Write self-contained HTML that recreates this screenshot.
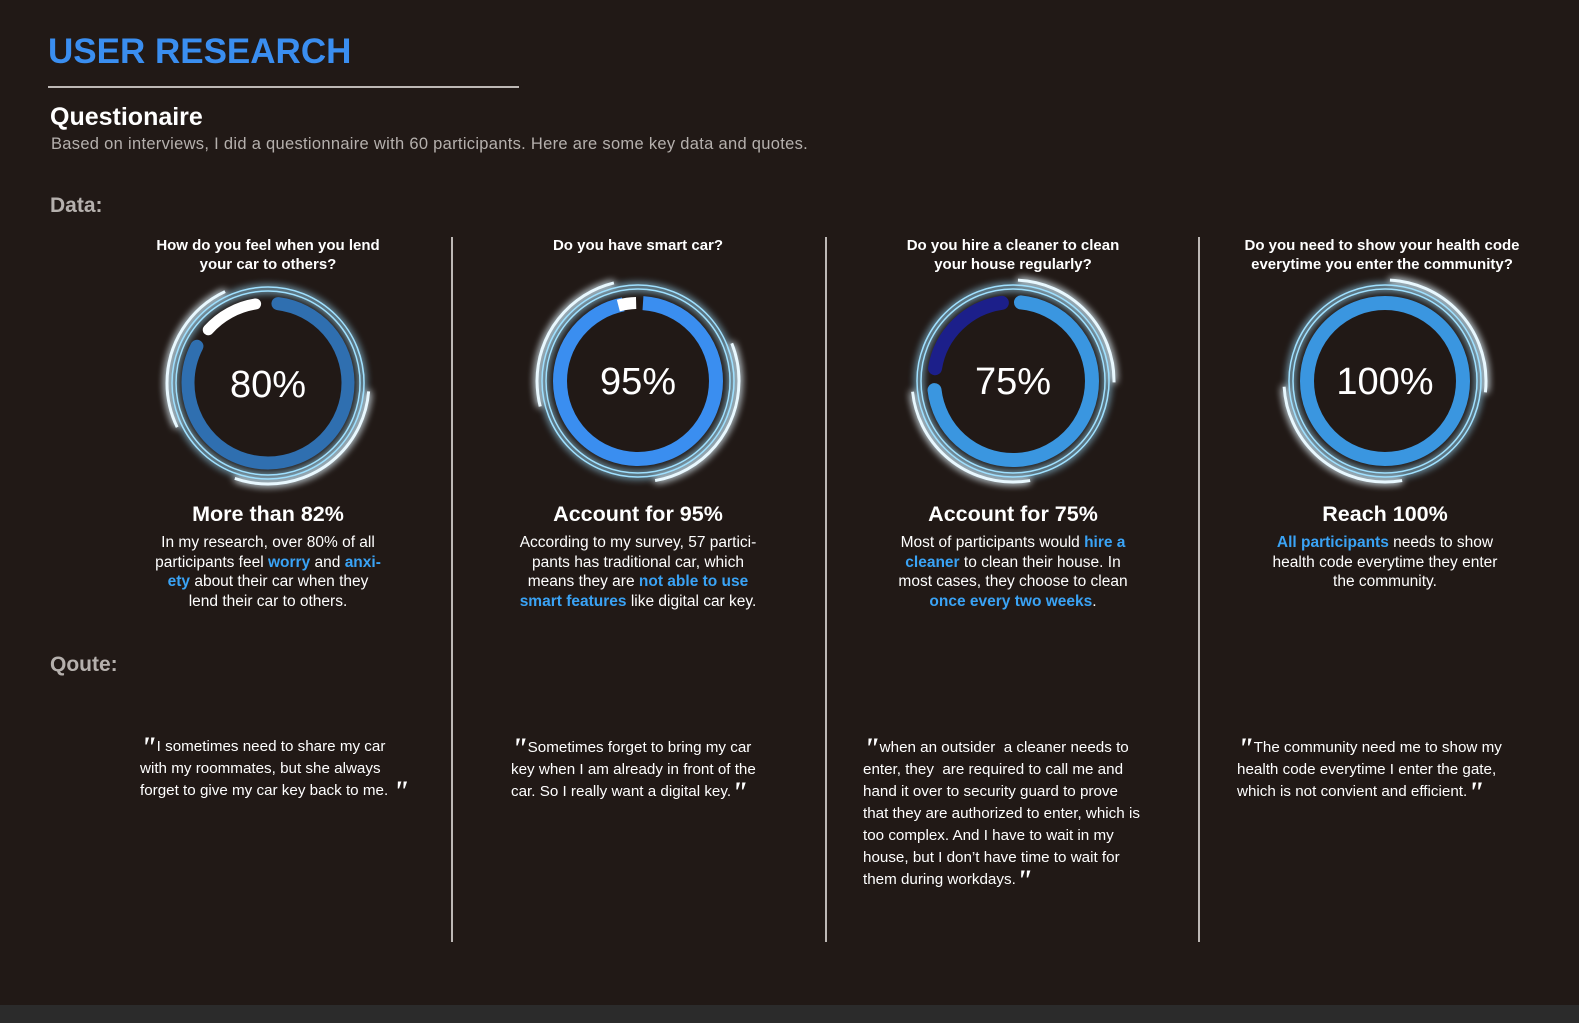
<!DOCTYPE html>
<html><head><meta charset="utf-8"><style>
body{margin:0;width:1579px;height:1023px;background:#211916;overflow:hidden;position:relative;font-family:"Liberation Sans",sans-serif;color:#fff}
.a{position:absolute}
.t{left:48px;top:32px;font-size:35px;font-weight:bold;color:#3a8ef0;letter-spacing:0px}
.hl{left:48px;top:86px;width:471px;height:2px;background:#bdb8b5}
.q{font-size:15px;font-weight:bold;text-align:center;line-height:19px}
.h{font-size:21.5px;font-weight:bold;text-align:center}
.b{font-size:15.5px;text-align:center;line-height:19.5px}
.b span{color:#3aa3f5;font-weight:bold}
.qt{font-size:15.2px;line-height:22px}
.qm{font-family:"Liberation Serif",serif;font-size:30px;font-weight:bold;font-style:italic;line-height:0;vertical-align:-6px}
.dv{width:2px;top:237px;height:705px;background:#bdb8b5}
.pct{font-size:38px;text-align:center;width:200px}
</style></head><body>
<div class="a t">USER RESEARCH</div>
<div class="a hl"></div>
<div class="a" style="left:50px;top:103px;font-size:25px;font-weight:bold">Questionaire</div>
<div class="a" style="left:51px;top:135px;font-size:16.5px;letter-spacing:0.3px;color:#b5b0ad">Based on interviews, I did a questionnaire with 60 participants. Here are some key data and quotes.</div>
<div class="a" style="left:50px;top:194px;font-size:21px;font-weight:bold;color:#b5b0ad">Data:</div>
<div class="a" style="left:50px;top:653px;font-size:21px;font-weight:bold;color:#b5b0ad">Qoute:</div>
<div class="a dv" style="left:451px"></div>
<div class="a dv" style="left:825px"></div>
<div class="a dv" style="left:1198px"></div>

<div class="a q" style="left:118px;width:300px;top:236px">How do you feel when you lend<br>your car to others?</div>
<div class="a q" style="left:488px;width:300px;top:236px">Do you have smart car?</div>
<div class="a q" style="left:863px;width:300px;top:236px">Do you hire a cleaner to clean<br>your house regularly?</div>
<div class="a q" style="left:1232px;width:300px;top:236px">Do you need to show your health code<br>everytime you enter the community?</div>

<svg class="a" style="left:0;top:0" width="1579" height="1023">
<defs><filter id="g" x="-30%" y="-30%" width="160%" height="160%"><feGaussianBlur stdDeviation="4" result="b"/><feMerge><feMergeNode in="b"/><feMergeNode in="b"/><feMergeNode in="SourceGraphic"/></feMerge></filter></defs>
<g fill="none">
<g transform="translate(268,383) rotate(-90)">
<g filter="url(#g)" stroke="#9fe0ff"><circle r="92" stroke-width="1.5"/><circle r="96" stroke-width="1.5"/>
<circle r="101" stroke="#e8f8ff" stroke-width="3" stroke-dasharray="184 451" stroke-dashoffset="-167"/>
<circle r="101" stroke="#e8f8ff" stroke-width="3" stroke-dasharray="160 475" stroke-dashoffset="-430"/></g>
<circle r="80" stroke="#2f6fb0" stroke-width="13" stroke-linecap="round" stroke-dasharray="405 98" stroke-dashoffset="-10"/>
<circle r="80" stroke="#fff" stroke-width="11" stroke-linecap="round" stroke-dasharray="55 448" stroke-dashoffset="-435"/>
</g>
<g transform="translate(638,381) rotate(-90)">
<g filter="url(#g)" stroke="#9fe0ff"><circle r="92" stroke-width="1.5"/><circle r="96" stroke-width="1.5"/>
<circle r="101" stroke="#e8f8ff" stroke-width="3" stroke-dasharray="180 455" stroke-dashoffset="-120"/>
<circle r="101" stroke="#e8f8ff" stroke-width="3" stroke-dasharray="160 475" stroke-dashoffset="-450"/></g>
<circle r="78" stroke="#3a8ef0" stroke-width="14" stroke-dasharray="470 20" stroke-dashoffset="-5"/>
<circle r="78" stroke="#fff" stroke-width="12" stroke-dasharray="18 472" stroke-dashoffset="-470"/>
</g>
<g transform="translate(1013,381) rotate(-90)">
<g filter="url(#g)" stroke="#9fe0ff"><circle r="92" stroke-width="1.5"/><circle r="96" stroke-width="1.5"/>
<circle r="101" stroke="#e8f8ff" stroke-width="3" stroke-dasharray="155 480" stroke-dashoffset="-5"/>
<circle r="101" stroke="#e8f8ff" stroke-width="3" stroke-dasharray="165 470" stroke-dashoffset="-300"/></g>
<circle r="79" stroke="#3a96e0" stroke-width="14" stroke-linecap="round" stroke-dasharray="355 141" stroke-dashoffset="-8"/>
<circle r="79" stroke="#1c1f8a" stroke-width="14" stroke-linecap="round" stroke-dasharray="100 396" stroke-dashoffset="-385"/>
</g>
<g transform="translate(1385,381) rotate(-90)">
<g filter="url(#g)" stroke="#9fe0ff"><circle r="92" stroke-width="1.5"/><circle r="96" stroke-width="1.5"/>
<circle r="101" stroke="#e8f8ff" stroke-width="3" stroke-dasharray="165 470" stroke-dashoffset="-5"/>
<circle r="101" stroke="#e8f8ff" stroke-width="3" stroke-dasharray="170 465" stroke-dashoffset="-300"/></g>
<circle r="78" stroke="#3a96e0" stroke-width="14"/>
</g>
</g></svg>

<div class="a pct" style="left:168px;top:364px">80%</div>
<div class="a pct" style="left:538px;top:361px">95%</div>
<div class="a pct" style="left:913px;top:361px">75%</div>
<div class="a pct" style="left:1285px;top:361px">100%</div>

<div class="a h" style="left:118px;width:300px;top:502px">More than 82%</div>
<div class="a h" style="left:488px;width:300px;top:502px">Account for 95%</div>
<div class="a h" style="left:863px;width:300px;top:502px">Account for 75%</div>
<div class="a h" style="left:1235px;width:300px;top:502px">Reach 100%</div>

<div class="a b" style="left:118px;width:300px;top:533px">In my research, over 80% of all<br>participants feel <span>worry</span> and <span>anxi-<br>ety</span> about their car when they<br>lend their car to others.</div>
<div class="a b" style="left:488px;width:300px;top:533px">According to my survey, 57 partici-<br>pants has traditional car, which<br>means they are <span>not able to use<br>smart features</span> like digital car key.</div>
<div class="a b" style="left:863px;width:300px;top:533px">Most of participants would <span>hire a<br>cleaner</span> to clean their house. In<br>most cases, they choose to clean<br><span>once every two weeks</span>.</div>
<div class="a b" style="left:1235px;width:300px;top:533px"><span>All participants</span> needs to show<br>health code everytime they enter<br>the community.</div>

<div class="a qt" style="left:140px;top:736px;width:300px"><span class="qm">"</span>I sometimes need to share my car<br>with my roommates, but she always<br>forget to give my car key back to me. <span class="qm">"</span></div>
<div class="a qt" style="left:511px;top:737px;width:300px"><span class="qm">"</span>Sometimes forget to bring my car<br>key when I am already in front of the<br>car. So I really want a digital key.<span class="qm">"</span></div>
<div class="a qt" style="left:863px;top:737px;width:320px"><span class="qm">"</span>when an outsider&nbsp; a cleaner needs to<br>enter, they&nbsp; are required to call me and<br>hand it over to security guard to prove<br>that they are authorized to enter, which is<br>too complex. And I have to wait in my<br>house, but I don’t have time to wait for<br>them during workdays.<span class="qm">"</span></div>
<div class="a qt" style="left:1237px;top:737px;width:320px"><span class="qm">"</span>The community need me to show my<br>health code everytime I enter the gate,<br>which is not convient and efficient.<span class="qm">"</span></div>

<div class="a" style="left:0;top:1005px;width:1579px;height:18px;background:#2b2b2b"></div>
</body></html>
